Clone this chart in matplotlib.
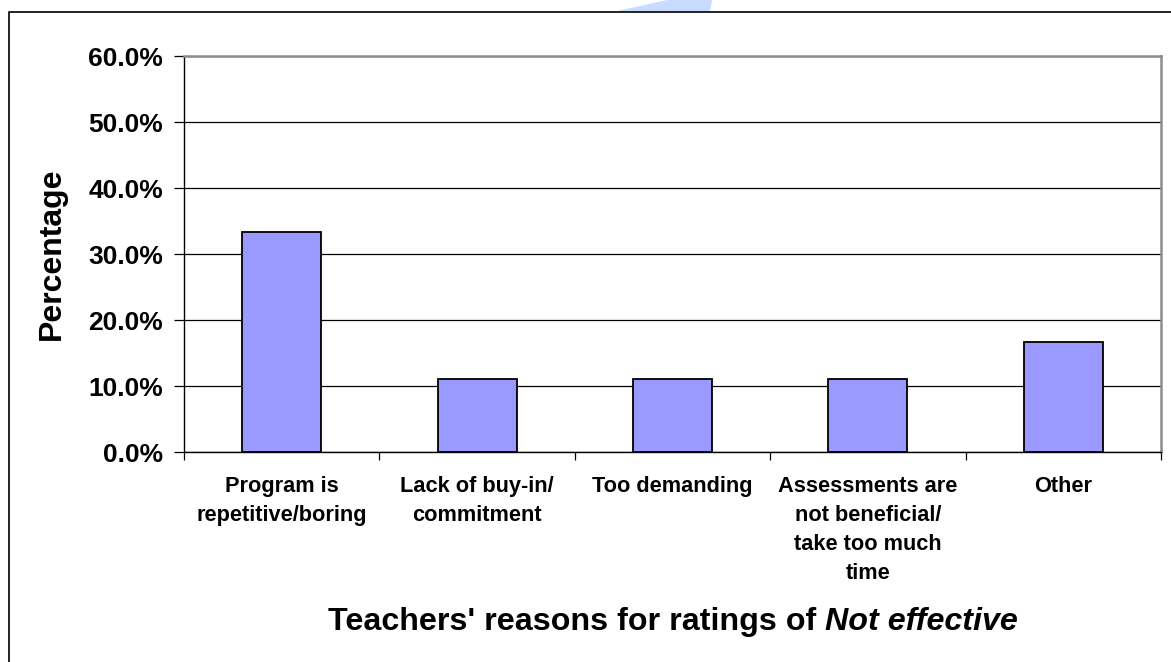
import numpy as np
import matplotlib
matplotlib.use("Agg")
import matplotlib.pyplot as plt
from matplotlib.lines import Line2D
from matplotlib.patches import Polygon

plt.rcParams['font.family'] = ['Liberation Sans', 'DejaVu Sans']

W, H = 1171, 662

categories = ["Program is\nrepetitive/boring", "Lack of buy-in/\ncommitment",
              "Too demanding", "Assessments are\nnot beneficial/\ntake too much\ntime",
              "Other"]
percent = [33.3, 11.1, 11.1, 11.1, 16.7]
y_ticks = [0, 10, 20, 30, 40, 50, 60]
title_plain = "Teachers' reasons for ratings of "
title_italic = "Not effective"


def px(x, y):
    # pixel position (from top-left) -> figure fraction
    return x / W, 1 - y / H


fig = plt.figure(figsize=(W / 100, H / 100), dpi=100)
fig.patch.set_facecolor("white")

# faint shape peeking in at the top edge
fig.add_artist(Polygon([px(613, 12), px(667, 0), px(712, 0), px(710, 12)],
                       closed=True, transform=fig.transFigure,
                       facecolor="#c8dcff", edgecolor="none", zorder=0))

# outer chart frame (left and top edges only)
fig.add_artist(Line2D([9 / W, 9 / W, 1], [0, 1 - 12 / H, 1 - 12 / H],
                      transform=fig.transFigure, color="#222222", lw=1.4, zorder=1))

left, bottom = px(184, 452)
right, top = px(1161, 56)
ax = fig.add_axes([left, bottom, right - left, top - bottom])

x = np.arange(len(categories))
ax.bar(x, percent, width=0.405, color="#9999ff", edgecolor="black",
       linewidth=1.3, zorder=3)

ax.set_xlim(-0.5, len(categories) - 0.5)
ax.set_ylim(0, 60)
ax.set_yticks(y_ticks)
ax.set_yticklabels(["{:.1f}%".format(v) for v in y_ticks],
                   fontsize=19, fontweight="bold")
ax.yaxis.grid(True, color="black", lw=0.9, zorder=0)
ax.set_axisbelow(True)
ax.tick_params(axis="y", length=7, width=0.9, pad=8)

ax.set_xticks(x)
ax.set_xticklabels(categories, fontsize=15.7, fontweight="bold", linespacing=1.5)
ax.tick_params(axis="x", which="major", length=0, pad=17)
ax.set_xticks(np.arange(-0.5, len(categories)), minor=True)
ax.tick_params(axis="x", which="minor", length=6, width=0.9)
for lab in ax.get_xticklabels():
    lab.set_verticalalignment("top")

for side in ["left", "bottom"]:
    ax.spines[side].set_color("black")
    ax.spines[side].set_linewidth(1.0)
for side in ["top", "right"]:
    ax.spines[side].set_color("#8c8c8c")
    ax.spines[side].set_linewidth(1.8)

fig.text(*px(52, 254), "Percentage", rotation=90, fontsize=23,
         fontweight="bold", ha="center", va="center")

# axis title: plain bold part followed by bold italic part, centred together
ty = px(0, 630)[1]
t1 = fig.text(0, ty, title_plain, fontsize=23.2, fontweight="bold",
              ha="left", va="baseline")
t2 = fig.text(0, ty, title_italic, fontsize=23.2, fontweight="bold",
              style="italic", ha="left", va="baseline")
fig.canvas.draw()
r = fig.canvas.get_renderer()
w1 = t1.get_window_extent(r).width / W
w2 = t2.get_window_extent(r).width / W
x0 = (left + right) / 2 - (w1 + w2) / 2
t1.set_x(x0)
t2.set_x(x0 + w1)

fig.savefig("out.png", dpi=100, facecolor="white")
